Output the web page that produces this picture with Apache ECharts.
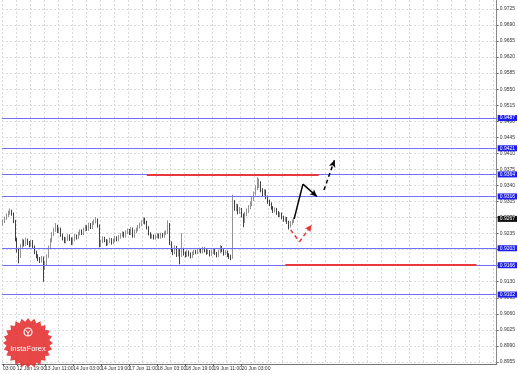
<!DOCTYPE html>
<html>
<head>
<meta charset="utf-8">
<script src="https://cdn.jsdelivr.net/npm/echarts@6/dist/echarts.min.js"></script>
<style>html,body{margin:0;padding:0;background:#fff}#c{width:518px;height:374px}</style>
</head>
<body>
<div id="c"></div>
<script>
// ---- data ----
const slotCount = 282;
const xTickLabels = ['03:00','12 Jun 19:00','13 Jun 11:00','14 Jun 03:00','14 Jun 19:00','17 Jun 11:00','18 Jun 03:00','18 Jun 19:00','19 Jun 11:00','20 Jun 03:00','20 Jun 19:00'];
const xTickIndex = [0,8,24,40,56,72,88,104,120,136,152];
const yTicks = [0.8955,0.8990,0.9025,0.9060,0.9095,0.9130,0.9165,0.9200,0.9235,0.9270,0.9305,0.9340,0.9375,0.9410,0.9445,0.9480,0.9515,0.9550,0.9585,0.9620,0.9655,0.9690,0.9725];

const opens = [0.9258,0.9262,0.9268,0.9275,0.9280,0.9284,0.9278,0.9262,0.9222,0.9200,
0.9186,0.9208,0.9218,0.9212,0.9220,0.9215,0.9210,0.9218,0.9206,0.9195,
0.9186,0.9180,0.9176,0.9182,0.9162,0.9170,0.9186,0.9205,0.9220,0.9234,
0.9244,0.9250,0.9240,0.9245,0.9232,0.9225,0.9218,0.9223,0.9230,0.9224,
0.9215,0.9222,0.9230,0.9227,0.9235,0.9240,0.9236,0.9244,0.9250,0.9245,
0.9255,0.9249,0.9258,0.9262,0.9265,0.9252,0.9210,0.9218,0.9225,0.9220,
0.9213,0.9218,0.9222,0.9216,0.9220,0.9226,0.9222,0.9228,0.9232,0.9236,
0.9230,0.9238,0.9242,0.9236,0.9245,0.9230,0.9240,0.9244,0.9250,0.9255,
0.9260,0.9266,0.9260,0.9248,0.9235,0.9228,0.9230,0.9226,0.9229,0.9232,
0.9228,0.9233,0.9230,0.9236,0.9238,0.9255,0.9214,0.9200,0.9195,0.9205,
0.9190,0.9198,0.9188,0.9200,0.9192,0.9188,0.9195,0.9190,0.9186,0.9192,
0.9196,0.9194,0.9198,0.9200,0.9196,0.9202,0.9198,0.9194,0.9196,0.9190,
0.9195,0.9198,0.9192,0.9188,0.9196,0.9205,0.9198,0.9192,0.9195,0.9188,
0.9185,0.9182,0.9300,0.9290,0.9295,0.9282,0.9288,0.9275,0.9262,0.9278,
0.9285,0.9292,0.9300,0.9310,0.9322,0.9335,0.9340,0.9345,0.9330,0.9322,
0.9328,0.9315,0.9305,0.9300,0.9292,0.9285,0.9288,0.9280,0.9275,0.9278,
0.9270,0.9265,0.9268,0.9260,0.9252,0.9258,0.9262];
const closes = [0.9262,0.9268,0.9275,0.9280,0.9284,0.9278,0.9262,0.9222,0.9200,0.9186,
0.9208,0.9218,0.9212,0.9220,0.9215,0.9210,0.9218,0.9206,0.9195,0.9186,
0.9180,0.9176,0.9182,0.9162,0.9170,0.9186,0.9205,0.9220,0.9234,0.9244,
0.9250,0.9240,0.9245,0.9232,0.9225,0.9218,0.9223,0.9230,0.9224,0.9215,
0.9222,0.9230,0.9227,0.9235,0.9240,0.9236,0.9244,0.9250,0.9245,0.9255,
0.9249,0.9258,0.9262,0.9265,0.9252,0.9210,0.9218,0.9225,0.9220,0.9213,
0.9218,0.9222,0.9216,0.9220,0.9226,0.9222,0.9228,0.9232,0.9236,0.9230,
0.9238,0.9242,0.9236,0.9245,0.9230,0.9240,0.9244,0.9250,0.9255,0.9260,
0.9266,0.9260,0.9248,0.9235,0.9228,0.9230,0.9226,0.9229,0.9232,0.9228,
0.9233,0.9230,0.9236,0.9238,0.9255,0.9214,0.9200,0.9195,0.9205,0.9190,
0.9198,0.9188,0.9200,0.9192,0.9188,0.9195,0.9190,0.9186,0.9192,0.9196,
0.9194,0.9198,0.9200,0.9196,0.9202,0.9198,0.9194,0.9196,0.9190,0.9195,
0.9198,0.9192,0.9188,0.9196,0.9205,0.9198,0.9192,0.9195,0.9188,0.9185,
0.9182,0.9300,0.9290,0.9295,0.9282,0.9288,0.9275,0.9262,0.9278,0.9285,
0.9292,0.9300,0.9310,0.9322,0.9335,0.9340,0.9345,0.9330,0.9322,0.9328,
0.9315,0.9305,0.9300,0.9292,0.9285,0.9288,0.9280,0.9275,0.9278,0.9270,
0.9265,0.9268,0.9260,0.9252,0.9258,0.9262,0.9267];
const lows = [0.9252,0.9258,0.9265,0.9271,0.9276,0.9274,0.9258,0.9218,0.9194,0.9170,
0.9182,0.9204,0.9207,0.9208,0.9210,0.9205,0.9206,0.9202,0.9190,0.9181,
0.9175,0.9171,0.9172,0.9130,0.9156,0.9166,0.9182,0.9201,0.9216,0.9230,
0.9239,0.9236,0.9236,0.9228,0.9220,0.9214,0.9214,0.9219,0.9219,0.9210,
0.9211,0.9218,0.9222,0.9223,0.9231,0.9232,0.9232,0.9240,0.9241,0.9241,
0.9245,0.9245,0.9254,0.9257,0.9248,0.9205,0.9206,0.9214,0.9216,0.9208,
0.9209,0.9214,0.9211,0.9212,0.9216,0.9218,0.9218,0.9224,0.9228,0.9226,
0.9226,0.9234,0.9232,0.9232,0.9226,0.9226,0.9236,0.9240,0.9246,0.9251,
0.9256,0.9255,0.9244,0.9231,0.9224,0.9224,0.9222,0.9222,0.9225,0.9224,
0.9224,0.9226,0.9226,0.9232,0.9234,0.9210,0.9195,0.9188,0.9190,0.9184,
0.9185,0.9168,0.9184,0.9187,0.9183,0.9184,0.9185,0.9181,0.9182,0.9188,
0.9190,0.9190,0.9194,0.9192,0.9192,0.9194,0.9189,0.9190,0.9185,0.9186,
0.9191,0.9188,0.9183,0.9184,0.9192,0.9194,0.9187,0.9188,0.9184,0.9180,
0.9177,0.9180,0.9285,0.9284,0.9277,0.9278,0.9270,0.9249,0.9258,0.9273,
0.9280,0.9288,0.9295,0.9306,0.9318,0.9330,0.9334,0.9325,0.9317,0.9318,
0.9310,0.9300,0.9295,0.9287,0.9280,0.9281,0.9276,0.9271,0.9271,0.9266,
0.9261,0.9261,0.9256,0.9244,0.9248,0.9254,0.9258];
const highs = [0.9266,0.9272,0.9279,0.9285,0.9290,0.9287,0.9281,0.9265,0.9226,0.9204,
0.9212,0.9224,0.9222,0.9226,0.9224,0.9219,0.9222,0.9221,0.9209,0.9198,
0.9190,0.9184,0.9186,0.9185,0.9175,0.9190,0.9209,0.9225,0.9238,0.9248,
0.9258,0.9254,0.9249,0.9248,0.9235,0.9228,0.9227,0.9234,0.9233,0.9227,
0.9226,0.9234,0.9233,0.9239,0.9244,0.9244,0.9248,0.9254,0.9253,0.9259,
0.9258,0.9262,0.9266,0.9271,0.9268,0.9255,0.9222,0.9229,0.9228,0.9223,
0.9222,0.9226,0.9225,0.9224,0.9230,0.9229,0.9232,0.9236,0.9240,0.9239,
0.9242,0.9246,0.9245,0.9249,0.9248,0.9244,0.9248,0.9254,0.9259,0.9264,
0.9270,0.9270,0.9263,0.9251,0.9238,0.9234,0.9233,0.9233,0.9236,0.9235,
0.9237,0.9236,0.9240,0.9242,0.9264,0.9258,0.9218,0.9204,0.9209,0.9208,
0.9202,0.9201,0.9236,0.9204,0.9196,0.9199,0.9198,0.9194,0.9196,0.9200,
0.9199,0.9202,0.9204,0.9203,0.9206,0.9205,0.9201,0.9200,0.9199,0.9199,
0.9202,0.9201,0.9195,0.9200,0.9210,0.9208,0.9201,0.9199,0.9198,0.9192,
0.9189,0.9320,0.9308,0.9300,0.9299,0.9293,0.9291,0.9279,0.9282,0.9290,
0.9297,0.9305,0.9315,0.9327,0.9340,0.9358,0.9355,0.9349,0.9334,0.9332,
0.9331,0.9318,0.9309,0.9303,0.9295,0.9292,0.9291,0.9284,0.9282,0.9281,
0.9274,0.9272,0.9271,0.9263,0.9262,0.9266,0.9270];

const blueLevels = [0.9487,0.9421,0.9364,0.9316,0.9203,0.9166,0.9102];
const currentPrice = 0.9267;
const redStart = [82,161];
const redEnd = [180,270];
const redValue = [0.9364,0.9166];
const blackArrow = [[166,0.9267],[171,0.9343],[179,0.9316]];
const blackDashArrow = [[183,0.9330],[189,0.9395]];
const redDashArrow = [[164,0.9243],[169,0.9217],[176,0.9254]];

// ---- build ----
const cats = Array.from({length: slotCount}, (_, i) => String(i));
const candles = opens.map((o, i) => [o, closes[i], lows[i], highs[i]]);

function pathSegments(pts, style) {
  const segs = [];
  for (let k = 0; k < pts.length - 1; k++) {
    const last = k === pts.length - 2;
    segs.push([
      {coord: pts[k], symbol: 'none', lineStyle: style},
      {coord: pts[k + 1], symbol: last ? 'arrow' : 'none', symbolSize: [5, 7]}
    ]);
  }
  return segs;
}

const labelBase = {show: true, position: 'end', distance: 1, color: '#fff', fontSize: 5,
  fontFamily: 'Liberation Sans, Arial, sans-serif', padding: [1, 2, 0, 2]};

const markData = [];
blueLevels.forEach(v => markData.push({
  yAxis: v,
  lineStyle: {color: '#7070ff', width: 1, type: 'solid'},
  label: Object.assign({}, labelBase, {backgroundColor: '#1c1cf0', formatter: v.toFixed(4)})
}));
markData.push({
  yAxis: currentPrice,
  lineStyle: {color: 'rgba(0,0,0,0)', width: 0},
  label: Object.assign({}, labelBase, {backgroundColor: '#111', formatter: currentPrice.toFixed(4)})
});
redValue.forEach((v, k) => markData.push([
  {coord: [redStart[k], v], lineStyle: {color: '#e8383d', width: 2, type: 'solid'}},
  {coord: [redEnd[k], v]}
]));
pathSegments(blackArrow, {color: '#000', width: 1.5, type: 'solid'}).forEach(s => markData.push(s));
pathSegments(blackDashArrow, {color: '#000', width: 1.5, type: [4, 3]}).forEach(s => markData.push(s));
pathSegments(redDashArrow, {color: '#ee3333', width: 1.5, type: [4, 3]}).forEach(s => markData.push(s));

// watermark star
const starPts = [];
for (let k = 0; k < 48; k++) {
  const r = k % 2 ? 21.5 : 25;
  const a = k * Math.PI / 24;
  starPts.push([28 + r * Math.cos(a), 343 + r * Math.sin(a)]);
}

const chart = echarts.init(document.getElementById('c'), null, {renderer: 'canvas'});
const isTick = (i) => xTickIndex.indexOf(i) >= 0;
chart.setOption({
  animation: false,
  backgroundColor: '#ffffff',
  grid: {left: 0, right: 19, top: 0, bottom: 10, containLabel: false},
  xAxis: {
    type: 'category',
    data: cats,
    boundaryGap: true,
    axisLine: {show: true, lineStyle: {color: '#777', width: 1}},
    axisTick: {show: true, interval: (i) => isTick(i), alignWithLabel: true, length: 2, lineStyle: {color: '#555'}},
    axisLabel: {
      interval: (i) => isTick(i),
      formatter: (val) => { const k = xTickIndex.indexOf(Number(val)); return k >= 0 ? xTickLabels[k] : ''; },
      align: 'left', fontSize: 5, color: '#333', margin: 2,
      fontFamily: 'Liberation Sans, Arial, sans-serif'
    },
    splitLine: {show: true, interval: (i) => i % 8 === 0, lineStyle: {color: '#dadada', type: [2, 2], width: 1}}
  },
  yAxis: {
    type: 'value',
    position: 'right',
    min: 0.89506,
    max: 0.97444,
    axisLine: {show: true, lineStyle: {color: '#888', width: 1}},
    axisTick: {show: true, customValues: yTicks, length: 2, lineStyle: {color: '#777'}},
    axisLabel: {show: true, customValues: yTicks, formatter: (v) => v.toFixed(4), fontSize: 5, color: '#333', margin: 3,
      fontFamily: 'Liberation Sans, Arial, sans-serif'},
    splitLine: {show: true, customValues: yTicks, lineStyle: {color: '#dadada', type: [2, 2], width: 1}}
  },
  series: [{
    type: 'candlestick',
    data: candles,
    barWidth: 1.2,
    itemStyle: {color: '#8a8a8a', color0: '#111', borderColor: '#777', borderColor0: '#111', borderWidth: 0.8},
    markLine: {
      silent: true,
      animation: false,
      precision: 6,
      symbol: ['none', 'none'],
      label: {show: false},
      emphasis: {disabled: true},
      data: markData
    }
  }],
  graphic: [
    {type: 'polygon', shape: {points: starPts}, style: {fill: 'rgba(228,45,45,0.88)'}, z: 10},
    {type: 'circle', shape: {cx: 28, cy: 332, r: 4}, style: {fill: 'none', stroke: '#fff', lineWidth: 1.2}, z: 11},
    {type: 'polyline', shape: {points: [[25.5, 330], [28, 333], [30.5, 330]]}, style: {stroke: '#fff', lineWidth: 1, fill: 'none'}, z: 11},
    {type: 'line', shape: {x1: 28, y1: 333, x2: 28, y2: 336}, style: {stroke: '#fff', lineWidth: 1}, z: 11},
    {type: 'text', x: 28, y: 349, style: {text: 'InstaForex', fill: '#fff', fontSize: 7.5, fontFamily: 'Liberation Sans, Arial, sans-serif', align: 'center', verticalAlign: 'middle'}, z: 11}
  ]
});
</script>
</body>
</html>
